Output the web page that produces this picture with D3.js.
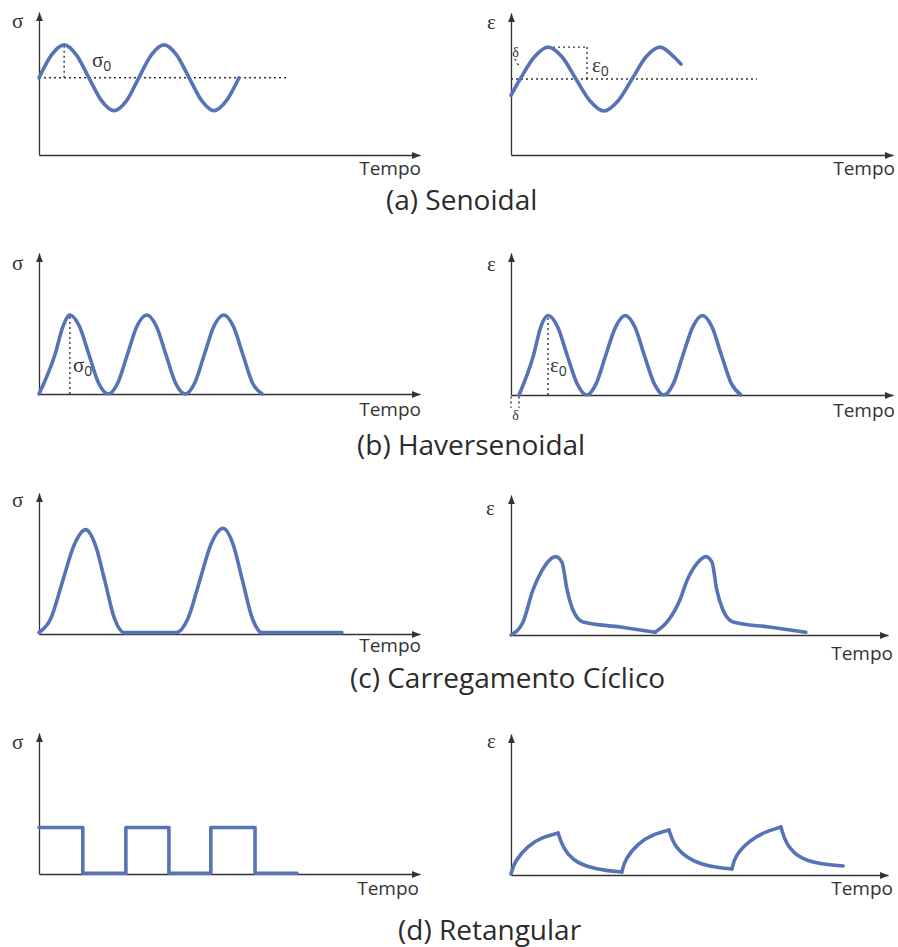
<!DOCTYPE html>
<html>
<head>
<meta charset="utf-8">
<script src="https://cdn.jsdelivr.net/npm/d3@7"></script>
<style>
  body { margin: 0; background: #fff; }
  svg { display: block; }
</style>
</head>
<body>
<svg id="chart" width="898" height="947"></svg>
<script>
// time / value units are 0..10 on every panel axis

// (a) senoidal
var senoStressT = [0, 0.33, 0.66, 0.98, 1.31, 1.64, 1.97, 2.30, 2.62, 2.95, 3.28, 3.61, 3.94, 4.27, 4.59, 4.92, 5.25];
var senoStressV = [5.4, 7.0, 7.7, 7.0, 5.4, 3.8, 3.1, 3.8, 5.4, 7.0, 7.7, 7.0, 5.4, 3.8, 3.1, 3.8, 5.4];
var senoStrainT = [0, 0.24, 0.61, 0.97, 1.34, 1.70, 2.07, 2.43, 2.80, 3.17, 3.53, 3.90, 4.27, 4.45];
var senoStrainV = [4.2, 5.35, 6.9, 7.6, 6.9, 5.35, 3.8, 3.1, 3.8, 5.35, 6.9, 7.6, 6.9, 6.4];

// (b) haversenoidal
var haverStressT = [0, 0.42, 0.63, 0.81, 1.06, 1.31, 1.56, 1.82, 2.07, 2.32, 2.57, 2.83, 3.08, 3.33, 3.58, 3.84, 4.09, 4.34, 4.59, 4.85, 5.10, 5.35, 5.60, 5.86];
var haverStressV = [0, 2.8, 4.8, 5.6, 4.8, 2.8, 0.8, 0, 0.8, 2.8, 4.8, 5.6, 4.8, 2.8, 0.8, 0, 0.8, 2.8, 4.8, 5.6, 4.8, 2.8, 0.8, 0];
var haverStrainT = [0.21, 0.59, 0.78, 0.97, 1.22, 1.47, 1.73, 1.98, 2.23, 2.48, 2.74, 2.99, 3.24, 3.49, 3.75, 4.00, 4.25, 4.50, 4.76, 5.01, 5.26, 5.51, 5.77, 6.02];
var haverStrainV = [0, 2.8, 4.8, 5.6, 4.8, 2.8, 0.8, 0, 0.8, 2.8, 4.8, 5.6, 4.8, 2.8, 0.8, 0, 0.8, 2.8, 4.8, 5.6, 4.8, 2.8, 0.8, 0];

// (c) carregamento ciclico
var cicloStressT = [0, 0.31, 0.62, 0.92, 1.23, 1.48, 1.73, 1.98, 2.23, 3.6, 3.91, 4.22, 4.52, 4.83, 5.09, 5.34, 5.6, 5.85, 7.95];
var cicloStressV = [0.1, 1.1, 3.75, 6.3, 7.4, 6.3, 3.75, 1.1, 0.1, 0.1, 1.1, 3.8, 6.4, 7.5, 6.4, 3.8, 1.1, 0.1, 0.1];
var cicloStrainT = [0, 0.32, 0.58, 0.82, 1.19, 1.35, 1.49, 1.64, 1.91, 2.9, 3.82, 4.14, 4.48, 4.67, 4.93, 5.17, 5.33, 5.46, 5.62, 5.89, 6.85, 7.82];
var cicloStrainV = [0, 0.93, 3.2, 4.6, 5.6, 5.2, 3.2, 1.8, 0.93, 0.57, 0.2, 0.93, 2.5, 3.9, 5.1, 5.6, 5.2, 3.2, 1.8, 0.93, 0.57, 0.2];
var cicloStrainBreaks = [10];

// (d) retangular
var retStressT = [0, 1.15, 2.28, 3.41, 4.51, 5.67, 6.77];
var retStressV = [3.3, 0.05, 3.3, 0.05, 3.3, 0.05, 0.05];
var retStrainT = [0, 0.1, 0.45, 0.85, 1.25, 1.38, 1.64, 2.02, 2.55, 2.94, 3.02, 3.37, 3.78, 4.19, 4.32, 4.67, 5.05, 5.54, 5.86, 5.94, 6.30, 6.72, 7.16, 7.29, 7.61, 8.01, 8.46, 8.81];
var retStrainV = [0.07, 1.0, 2.1, 2.7, 2.98, 1.9, 1.06, 0.57, 0.3, 0.21, 1.1, 2.25, 2.9, 3.19, 2.1, 1.21, 0.75, 0.5, 0.43, 1.35, 2.4, 3.05, 3.4, 2.2, 1.28, 0.88, 0.71, 0.64];
var retStrainBreaks = [4, 9, 13, 18, 22];

var titles = ["(a) Senoidal", "(b) Haversenoidal", "(c) Carregamento Cíclico", "(d) Retangular"];
var axisX = "Tempo";

var BLUE = "#5673b6";
var INK = "#333";

var svg = d3.select("#chart");

svg.append("defs").append("marker")
    .attr("id", "arrow")
    .attr("viewBox", "0 0 10 8")
    .attr("refX", 10).attr("refY", 4)
    .attr("markerWidth", 9).attr("markerHeight", 7)
    .attr("markerUnits", "userSpaceOnUse")
    .attr("orient", "auto")
  .append("path")
    .attr("d", "M0,0L10,4L0,8Z")
    .attr("fill", INK);

// panel frames: origin, axis length, axis height
var panels = [
  {ox: 39,  oy: 155, w: 381, h: 143, sym: "σ", lx: 12,  ly: 28,  tx: 421, ty: 175},
  {ox: 511, oy: 155, w: 382, h: 142, sym: "ε", lx: 487, ly: 29,  tx: 895, ty: 175},
  {ox: 39,  oy: 394, w: 381, h: 141, sym: "σ", lx: 12,  ly: 270, tx: 421, ty: 416},
  {ox: 511, oy: 395, w: 382, h: 142, sym: "ε", lx: 487, ly: 271, tx: 895, ty: 417},
  {ox: 39,  oy: 634, w: 381, h: 141, sym: "σ", lx: 12,  ly: 507, tx: 421, ty: 652},
  {ox: 511, oy: 635, w: 377, h: 140, sym: "ε", lx: 486, ly: 515, tx: 893, ty: 660},
  {ox: 39,  oy: 874, w: 381, h: 141, sym: "σ", lx: 12,  ly: 749, tx: 419, ty: 895},
  {ox: 511, oy: 875, w: 377, h: 141, sym: "ε", lx: 487, ly: 748, tx: 893, ty: 895}
];

var titlePos = [[386, 210], [357, 455], [350, 688], [398, 940]];

function frame(p) {
  var g = svg.append("g");
  var x = d3.scaleLinear().domain([0, 10]).range([p.ox, p.ox + p.w]);
  var y = d3.scaleLinear().domain([0, 10]).range([p.oy, p.oy - p.h]);

  g.append("g").attr("transform", "translate(0," + p.oy + ")")
    .call(d3.axisBottom(x).tickValues([]).tickSizeOuter(0))
    .select(".domain").attr("stroke", INK).attr("stroke-width", 1.3).attr("marker-end", "url(#arrow)");
  g.append("g").attr("transform", "translate(" + p.ox + ",0)")
    .call(d3.axisLeft(y).tickValues([]).tickSizeOuter(0))
    .select(".domain").attr("stroke", INK).attr("stroke-width", 1.3).attr("marker-end", "url(#arrow)");

  g.append("text").attr("x", p.lx).attr("y", p.ly)
    .attr("font-family", "Liberation Serif, serif").attr("font-size", 21)
    .attr("fill", INK).text(p.sym);
  g.append("text").attr("x", p.tx).attr("y", p.ty)
    .attr("text-anchor", "end")
    .attr("font-family", "Open Sans, sans-serif").attr("font-size", 19)
    .attr("fill", INK).text(axisX);

  return {g: g, x: x, y: y};
}

function curve(f, ts, vs, kind, breaks) {
  var pts = ts.map(function(t, i) { return [t, vs[i]]; });
  var cuts = [0].concat(breaks || []).concat([pts.length - 1]);
  var line = d3.line()
    .x(function(d) { return f.x(d[0]); })
    .y(function(d) { return f.y(d[1]); })
    .curve(kind || d3.curveMonotoneX);
  for (var i = 0; i < cuts.length - 1; i++) {
    f.g.append("path")
      .datum(pts.slice(cuts[i], cuts[i + 1] + 1))
      .attr("d", line)
      .attr("fill", "none")
      .attr("stroke", BLUE)
      .attr("stroke-width", 3.6)
      .attr("stroke-linecap", "round")
      .attr("stroke-linejoin", "round");
  }
}

function dotted(f, a, b) {
  f.g.append("line")
    .attr("x1", f.x(a[0])).attr("y1", f.y(a[1]))
    .attr("x2", f.x(b[0])).attr("y2", f.y(b[1]))
    .attr("stroke", INK).attr("stroke-width", 1.4)
    .attr("stroke-dasharray", "2,3");
}

function label(f, at, main, sub, size) {
  var t = f.g.append("text")
    .attr("x", f.x(at[0])).attr("y", f.y(at[1]))
    .attr("font-family", "Liberation Serif, serif")
    .attr("font-size", size || 21).attr("fill", INK)
    .text(main);
  if (sub) {
    t.append("tspan").attr("dy", 4).attr("font-size", 14)
      .attr("font-family", "Open Sans, sans-serif").text(sub);
  }
}

var f = panels.map(frame);

// (a)
dotted(f[0], [0, 5.4], [6.5, 5.4]);
dotted(f[0], [0.66, 5.4], [0.66, 7.7]);
curve(f[0], senoStressT, senoStressV);
label(f[0], [1.39, 6.15], "σ", "0");

dotted(f[1], [0, 5.35], [6.44, 5.35]);
dotted(f[1], [0.97, 7.6], [1.99, 7.6]);
dotted(f[1], [1.99, 7.6], [1.99, 5.35]);
dotted(f[1], [0.1, 6.76], [0.24, 6.13]);
curve(f[1], senoStrainT, senoStrainV);
label(f[1], [2.12, 5.85], "ε", "0");
label(f[1], [0.03, 6.9], "δ", null, 14);

// (b)
dotted(f[2], [0.81, 0], [0.81, 5.6]);
curve(f[2], haverStressT, haverStressV);
label(f[2], [0.89, 1.56], "σ", "0");

dotted(f[3], [0.97, 0], [0.97, 5.63]);
dotted(f[3], [0, -0.1], [0, -0.9]);
dotted(f[3], [0.21, -0.1], [0.21, -0.9]);
curve(f[3], haverStrainT, haverStrainV);
label(f[3], [1.02, 1.62], "ε", "0");
label(f[3], [0.03, -1.76], "δ", null, 14);

// (c)
curve(f[4], cicloStressT, cicloStressV);
curve(f[5], cicloStrainT, cicloStrainV, d3.curveMonotoneX, cicloStrainBreaks);

// (d)
curve(f[6], retStressT, retStressV, d3.curveStepAfter);
curve(f[7], retStrainT, retStrainV, d3.curveBasis, retStrainBreaks);

svg.selectAll(".title").data(titles).enter().append("text")
  .attr("class", "title")
  .attr("x", function(d, i) { return titlePos[i][0]; })
  .attr("y", function(d, i) { return titlePos[i][1]; })
  .attr("font-family", "Open Sans, sans-serif")
  .attr("font-size", 28)
  .attr("fill", "#2b2b2b")
  .text(function(d) { return d; });
</script>
</body>
</html>
